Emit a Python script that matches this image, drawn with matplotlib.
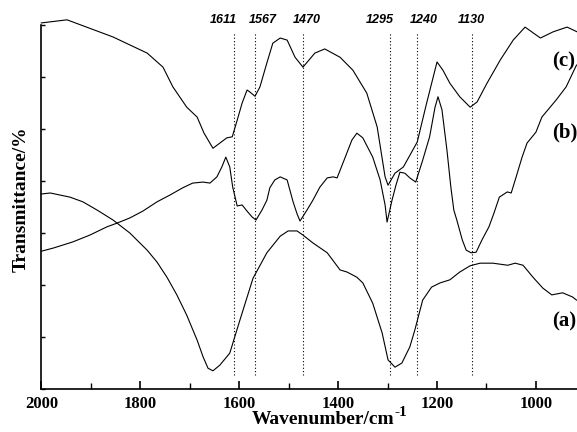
import matplotlib
matplotlib.use("Agg")
import matplotlib.pyplot as plt
from matplotlib.ticker import MultipleLocator

plt.rcParams['font.family'] = ['Liberation Serif', 'DejaVu Serif']

# spectrum (a)
wn_a = [2000, 1982, 1942, 1916, 1887, 1855, 1821, 1786, 1766, 1746, 1726, 1706,
        1685, 1673, 1663, 1653, 1639, 1619, 1599, 1572, 1544, 1517, 1501, 1483,
        1471, 1451, 1422, 1396, 1382, 1362, 1350, 1330, 1311, 1299, 1285, 1271,
        1255, 1245, 1229, 1211, 1194, 1174, 1154, 1133, 1113, 1087, 1057, 1042,
        1026, 1006, 986, 968, 946, 926, 918]
t_a = [3.75, 3.77, 3.69, 3.60, 3.44, 3.25, 3.00, 2.67, 2.44, 2.15, 1.81, 1.42,
       0.94, 0.62, 0.40, 0.35, 0.46, 0.69, 1.31, 2.13, 2.62, 2.94, 3.04, 3.04,
       2.96, 2.81, 2.62, 2.29, 2.25, 2.15, 2.04, 1.65, 1.08, 0.56, 0.42, 0.50,
       0.81, 1.13, 1.71, 1.96, 2.04, 2.10, 2.25, 2.37, 2.42, 2.42, 2.38, 2.42,
       2.38, 2.15, 1.94, 1.81, 1.85, 1.77, 1.71]

# spectrum (b)
wn_b = [2000, 1976, 1936, 1902, 1867, 1847, 1821, 1795, 1766, 1740, 1714, 1694,
        1673, 1659, 1645, 1635, 1627, 1619, 1613, 1604, 1594, 1584, 1574, 1566,
        1554, 1544, 1538, 1528, 1517, 1503, 1491, 1483, 1477, 1463, 1451, 1437,
        1422, 1410, 1402, 1390, 1372, 1362, 1350, 1330, 1315, 1305, 1301, 1291,
        1283, 1275, 1265, 1255, 1243, 1229, 1215, 1204, 1198, 1190, 1180, 1172,
        1166, 1160, 1149, 1141, 1131, 1121, 1109, 1095, 1085, 1074, 1058, 1050,
        1040, 1028, 1018, 1000, 988, 959, 939, 918]
t_b = [2.65, 2.71, 2.83, 2.96, 3.12, 3.19, 3.29, 3.42, 3.60, 3.73, 3.87, 3.96,
       3.98, 3.96, 4.08, 4.27, 4.46, 4.27, 3.88, 3.52, 3.54, 3.42, 3.31, 3.25,
       3.44, 3.63, 3.87, 4.02, 4.08, 4.02, 3.60, 3.37, 3.23, 3.44, 3.63, 3.88,
       4.06, 4.08, 4.06, 4.35, 4.79, 4.92, 4.83, 4.46, 4.02, 3.54, 3.21, 3.63,
       3.92, 4.17, 4.15, 4.06, 3.98, 4.40, 4.85, 5.42, 5.62, 5.37, 4.60, 3.88,
       3.44, 3.25, 2.87, 2.67, 2.62, 2.63, 2.87, 3.12, 3.38, 3.69, 3.79, 3.77,
       4.08, 4.46, 4.73, 4.94, 5.23, 5.56, 5.81, 6.23]

# spectrum (c)
wn_c = [2000, 1948, 1855, 1786, 1754, 1734, 1706, 1685, 1671, 1653, 1639, 1625,
        1614, 1604, 1594, 1584, 1578, 1568, 1558, 1544, 1532, 1517, 1503, 1487,
        1471, 1447, 1427, 1396, 1370, 1342, 1321, 1305, 1299, 1285, 1268, 1240,
        1222, 1200, 1188, 1174, 1154, 1133, 1119, 1099, 1072, 1046, 1022, 991,
        965, 937, 917]
t_c = [7.04, 7.10, 6.77, 6.46, 6.19, 5.81, 5.42, 5.23, 4.92, 4.63, 4.73, 4.83,
       4.85, 5.17, 5.50, 5.75, 5.71, 5.63, 5.81, 6.27, 6.65, 6.75, 6.71, 6.38,
       6.19, 6.46, 6.54, 6.38, 6.13, 5.69, 5.04, 4.08, 3.92, 4.15, 4.27, 4.75,
       5.46, 6.29, 6.13, 5.88, 5.62, 5.42, 5.52, 5.88, 6.33, 6.71, 6.96, 6.75,
       6.87, 6.96, 6.87]

peaks = [1611, 1567, 1470, 1295, 1240, 1130]
peak_label_x = [1631, 1552, 1463, 1315, 1226, 1131]
curve_names = ['(a)', '(b)', '(c)']
curve_label_y = [1.3, 4.93, 6.3]

fig = plt.figure(figsize=(5.77, 4.32), dpi=100)
ax = fig.add_axes([0.0716, 0.0995, 0.9284, 0.8787])

for wn, t in [(wn_a, t_a), (wn_b, t_b), (wn_c, t_c)]:
    ax.plot(wn, t, color='black', lw=0.8, clip_on=False)

ax.vlines(peaks, 0.27, 6.87, colors='black', lw=0.8, linestyles=(0, (1, 2)))
for p, lx in zip(peaks, peak_label_x):
    ax.text(lx, 7.1, str(p), ha='center', va='center',
            fontsize=9, fontstyle='italic', fontweight='bold',
            family=['Liberation Sans', 'DejaVu Sans'])

for name, ly in zip(curve_names, curve_label_y):
    ax.text(967, ly, name, ha='left', va='center', fontsize=15, fontweight='bold')

ax.set_xlim(2000, 917)
ax.set_ylim(0, 7.3)
ax.spines['top'].set_visible(False)
ax.spines['right'].set_visible(False)
ax.spines['left'].set_bounds(0, 7)
ax.spines['left'].set_linewidth(1.2)
ax.spines['bottom'].set_linewidth(1.2)

ax.xaxis.set_major_locator(MultipleLocator(200))
ax.xaxis.set_minor_locator(MultipleLocator(100))
ax.set_yticks(range(8))
ax.set_yticklabels([])
ax.tick_params(axis='x', which='major', direction='in', length=6, width=1.2, pad=5,
               labelsize=12)
ax.tick_params(axis='x', which='minor', direction='in', length=4, width=1.0)
ax.tick_params(axis='y', direction='in', length=3, width=1.0)
for lab in ax.get_xticklabels():
    lab.set_fontweight('bold')

ax.set_xlabel('Wavenumber/cm', fontsize=14, fontweight='bold')
ax.xaxis.set_label_coords(0.525, -0.058)
ax.set_ylabel('Transmittance/%', fontsize=14, fontweight='bold')
ax.yaxis.set_label_coords(-0.022, 0.5)

# superscript -1 placed after the x label
fig.canvas.draw()
bb = ax.xaxis.label.get_window_extent()
fig.text((bb.x1 + 1) / fig.bbox.width, 0.036, '-1', fontsize=11,
         fontweight='bold', ha='left', va='baseline')

fig.savefig('out.png', dpi=100)
